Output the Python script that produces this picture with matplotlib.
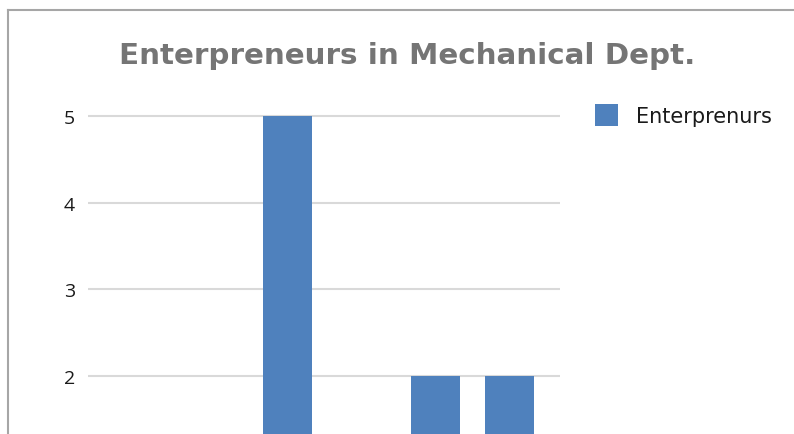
import matplotlib
matplotlib.use('Agg')
import matplotlib.pyplot as plt
from matplotlib.lines import Line2D

categories = ['1', '2', '3', '4', '5', '6']
values = [1, 1, 5, 1, 2, 2]
series_name = 'Enterprenurs'
title = 'Enterpreneurs in Mechanical Dept.'
yticks = [2, 3, 4, 5]

W, H = 794, 435
fig = plt.figure(figsize=(W / 100, H / 100), dpi=100)

# plot area: gridlines run x 88..560, value 5 at y=117, 1 unit = 86.7 px
ax = fig.add_axes([88 / W, 0, 472 / W, (H - 112) / H])
bars = ax.bar(range(len(categories)), values, width=0.653, color='#4f81bd',
              label=series_name, zorder=2)
ax.set_xlim(-0.696, 5.682)
ax.set_ylim(5 - (H - 117) / 86.7, 5 + 5 / 86.7)
ax.set_yticks(yticks)
ax.set_xticks([])
ax.tick_params(axis='y', length=0, pad=9.5, labelsize=14, labelcolor='#1a1a1a')
for lab in ax.get_yticklabels():
    lab.set_family('Open Sans')
ax.grid(axis='y', color='#d9d9d9', linewidth=1.5, zorder=0)
for s in ax.spines.values():
    s.set_visible(False)

fig.text(407 / W, 1 - 64 / H, title, ha='center', va='baseline',
         fontsize=21.2, fontweight='bold', color='#757575', family='DejaVu Sans')

leg = fig.legend(handles=[bars], labels=[series_name], loc='center left',
                 bbox_to_anchor=(595 / W, 1 - 116 / H), frameon=False,
                 prop={'family': 'DejaVu Sans', 'size': 15},
                 handlelength=1.1, handleheight=1.32, handletextpad=0.87,
                 borderaxespad=0, borderpad=0)
for t in leg.get_texts():
    t.set_color('#1a1a1a')

# chart frame (only top and left edges visible in this crop)
fig.add_artist(Line2D([8 / W, 8 / W], [0, 1 - 11 / H], color='#a6a6a6', lw=1.5))
fig.add_artist(Line2D([8 / W, 1], [1 - 11 / H, 1 - 11 / H], color='#a6a6a6', lw=1.5))

fig.savefig('out.png', dpi=100)
